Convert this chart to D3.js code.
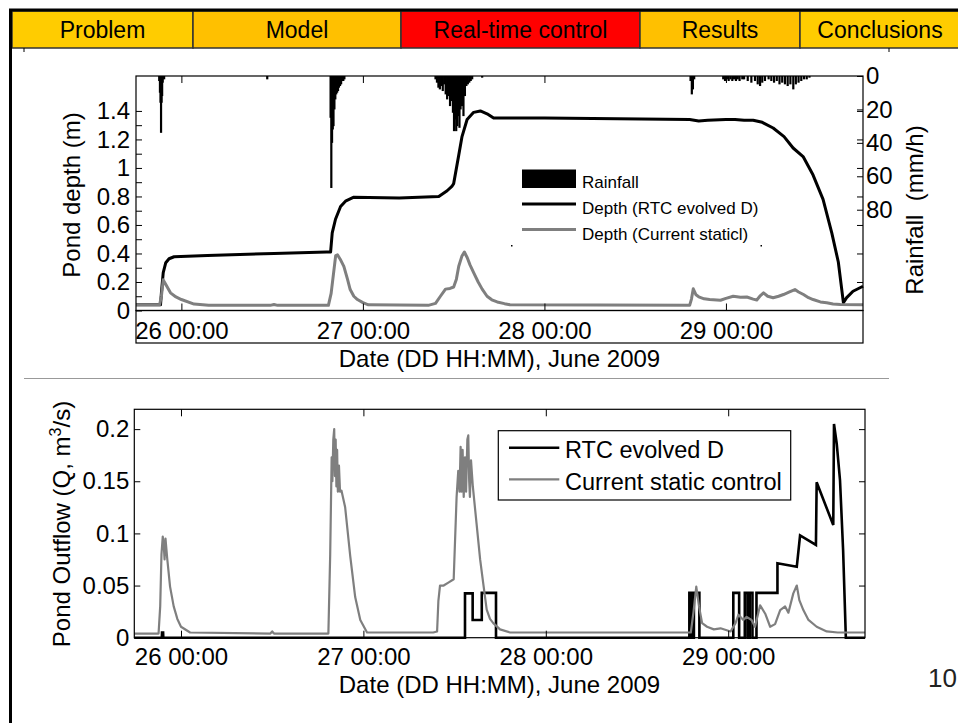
<!DOCTYPE html>
<meta charset="utf-8">

<!-- Load d3.js -->
<script src="https://d3js.org/d3.v7.min.js"></script>

<style>
body { margin: 0; background: #fff; }
text { font-family: "Liberation Sans", Arial, sans-serif; fill: #000; }
.tick line { stroke: #000; }
</style>

<div id="my_dataviz"></div>

<script>

// ---------------------------//
//       DATA                 //
// ---------------------------//

// header tabs
var tabNames = ["Problem", "Model", "Real-time control", "Results", "Conclusions"];
var tabColors = ["#FFCC00", "#FFC000", "#FF0000", "#FFC000", "#FFCC00"];

// x axis (days of June 2009)
var dayTicks = [26, 27, 28, 29];
var dayLabels = ["26 00:00", "27 00:00", "28 00:00", "29 00:00"];

// top panel ticks
var depthTicks = [0, 0.1, 0.2, 0.3, 0.4, 0.5, 0.6, 0.7, 0.8, 0.9, 1, 1.1, 1.2, 1.3, 1.4];
var depthLabelled = [0, 0.2, 0.4, 0.6, 0.8, 1, 1.2, 1.4];
var rainTicks = [0, 20, 40, 60, 80];

// bottom panel ticks
var flowTicks = [0, 0.05, 0.1, 0.15, 0.2];

// rainfall (mm/h)
var rainTime = [25.878, 25.882, 25.885, 25.888, 25.891, 25.894, 25.897, 25.905,
  26.473,
  26.822, 26.826, 26.830, 26.834, 26.838, 26.843, 26.848, 26.853, 26.858, 26.863, 26.868, 26.874, 26.880, 26.886, 26.892, 26.898,
  27.400, 27.408, 27.416, 27.424, 27.432, 27.440, 27.448, 27.456, 27.464, 27.472, 27.480, 27.488, 27.496, 27.502, 27.508, 27.514,
  27.520, 27.526, 27.532, 27.538, 27.546, 27.554, 27.562, 27.570, 27.578, 27.586, 27.594, 27.602, 27.657,
  28.805, 28.812, 28.818, 28.825,
  28.985, 28.995, 29.005, 29.015, 29.025, 29.035, 29.045, 29.055, 29.065, 29.075, 29.09, 29.10, 29.12, 29.14, 29.16, 29.175,
  29.188, 29.20, 29.215, 29.235, 29.25, 29.265, 29.28, 29.295, 29.31, 29.325, 29.34, 29.355, 29.371, 29.385, 29.40, 29.415,
  29.43, 29.445, 29.46];
var rainValue = [3, 10, 16, 34, 16, 12, 4, 2,
  2,
  25, 67, 40, 32, 30, 20, 14, 11, 10, 9, 7, 6, 5, 3, 3, 2,
  2, 4, 7, 8, 6, 9, 5, 11, 14, 12, 18, 15, 22, 33, 26, 33,
  30, 24, 31, 20, 18, 24, 12, 6, 5, 4, 3, 2, 1,
  3, 11, 8, 2,
  2, 3, 2, 3, 2, 3, 2, 3, 2, 3, 2, 2, 3, 4, 3, 5,
  6, 4, 3, 2, 3, 4, 3, 5, 4, 5, 6, 5, 8, 5, 4, 3,
  2, 2, 1];

// pond depth (m), RTC evolved D
var rtcDepthTime = [25.75, 25.885, 25.89, 25.90, 25.914, 25.932, 25.96, 26.143, 26.51, 26.80, 26.822, 26.831, 26.849,
  26.877, 26.904, 26.95, 27.2, 27.418, 27.464, 27.49, 27.50, 27.528, 27.546, 27.574, 27.61, 27.647, 27.684, 27.72,
  28.0, 28.4, 28.8, 28.85, 28.9, 29.0, 29.05, 29.1, 29.15, 29.2, 29.26, 29.32, 29.37, 29.425, 29.48, 29.535, 29.583,
  29.619, 29.647, 29.665, 29.70, 29.755];
var rtcDepthValue = [0.04, 0.04, 0.124, 0.265, 0.335, 0.363, 0.377, 0.386, 0.40, 0.41, 0.41, 0.545, 0.64,
  0.73, 0.767, 0.795, 0.79, 0.80, 0.84, 0.87, 0.89, 1.09, 1.22, 1.34, 1.39, 1.40, 1.38, 1.35,
  1.35, 1.345, 1.34, 1.33, 1.335, 1.34, 1.34, 1.335, 1.335, 1.32, 1.28, 1.22, 1.14, 1.08, 0.95, 0.78, 0.545,
  0.34, 0.055, 0.09, 0.135, 0.17];

// pond depth (m), current static control
var staticDepthTime = [25.75, 25.88, 25.89, 25.90, 25.915, 25.94, 25.97, 26.0, 26.07, 26.15, 26.49, 26.51, 26.53,
  26.81, 26.825, 26.85, 26.86, 26.875, 26.895, 26.915, 26.93, 26.95, 26.97, 27.0, 27.03, 27.36, 27.40, 27.427,
  27.455, 27.48, 27.50, 27.515, 27.528, 27.545, 27.559, 27.575, 27.59, 27.61, 27.635, 27.657, 27.684, 27.71, 27.74,
  27.78, 27.81, 28.80, 28.81, 28.82, 28.835, 28.85, 28.88, 28.91, 28.97, 29.0, 29.04, 29.08, 29.115, 29.15, 29.17,
  29.19, 29.207, 29.23, 29.26, 29.29, 29.317, 29.35, 29.38, 29.40, 29.427, 29.455, 29.48, 29.52, 29.555, 29.59,
  29.63, 29.755];
var staticDepthValue = [0.04, 0.04, 0.10, 0.215, 0.18, 0.124, 0.095, 0.077, 0.045, 0.037, 0.036, 0.042, 0.036,
  0.036, 0.12, 0.385, 0.39, 0.36, 0.31, 0.22, 0.147, 0.10, 0.077, 0.055, 0.04, 0.036, 0.05, 0.10,
  0.15, 0.155, 0.165, 0.22, 0.31, 0.38, 0.41, 0.37, 0.32, 0.265, 0.20, 0.15, 0.10, 0.075, 0.06,
  0.048, 0.04, 0.036, 0.08, 0.152, 0.11, 0.096, 0.082, 0.077, 0.072, 0.085, 0.10, 0.093, 0.095, 0.08, 0.074,
  0.105, 0.124, 0.10, 0.089, 0.10, 0.112, 0.13, 0.147, 0.13, 0.112, 0.09, 0.077, 0.06, 0.054, 0.045,
  0.042, 0.04];

// pond outflow (m3/s), RTC evolved D
var rtcFlowTime = [25.744, 25.895, 25.896, 25.902, 25.903, 27.557, 27.557, 27.599, 27.599, 27.649, 27.649, 27.727,
  27.727, 28.787, 28.787, 28.80, 28.80, 28.812, 28.812, 28.842, 28.842, 29.028, 29.028, 29.06, 29.06, 29.091,
  29.091, 29.106, 29.106, 29.118, 29.118, 29.133, 29.133, 29.155, 29.155, 29.27, 29.27, 29.376, 29.394, 29.481,
  29.485, 29.576, 29.58, 29.595, 29.613, 29.63, 29.645, 29.75];
var rtcFlowValue = [0, 0, 0.005, 0.005, 0, 0, 0.0425, 0.0425, 0.017, 0.017, 0.043, 0.043,
  0, 0, 0.043, 0.043, 0, 0, 0.043, 0.043, 0, 0, 0.043, 0.043, 0, 0,
  0.043, 0.043, 0, 0, 0.043, 0.043, 0, 0, 0.043, 0.043, 0.0713, 0.068, 0.098, 0.089,
  0.149, 0.108, 0.205, 0.186, 0.151, 0.084, 0, 0];

// pond outflow (m3/s), current static control
var staticFlowTime = [25.744, 25.877, 25.886, 25.893, 25.90, 25.905, 25.91, 25.915, 25.925, 25.94, 25.96, 25.98,
  26.0, 26.05, 26.49, 26.5, 26.51, 26.808, 26.818, 26.826, 26.83, 26.835, 26.84, 26.844, 26.848, 26.852, 26.856,
  26.86, 26.866, 26.872, 26.88, 26.9, 26.928, 26.955, 26.983, 27.02, 27.383, 27.404, 27.411, 27.42, 27.44, 27.468,
  27.495, 27.511, 27.52, 27.527, 27.533, 27.538, 27.544, 27.55, 27.557, 27.563, 27.57, 27.575, 27.58, 27.584, 27.59,
  27.60, 27.62, 27.64, 27.657, 27.676, 27.694, 27.712, 27.749, 27.804, 28.795, 28.81, 28.825, 28.84, 28.857,
  28.884, 28.921, 28.958, 29.013, 29.04, 29.056, 29.083, 29.101, 29.128, 29.147, 29.175, 29.203, 29.23, 29.257,
  29.285, 29.312, 29.33, 29.357, 29.376, 29.39, 29.412, 29.44, 29.485, 29.54, 29.6, 29.75];
var staticFlowValue = [0.004, 0.004, 0.03, 0.08, 0.097, 0.09, 0.075, 0.095, 0.075, 0.049, 0.03, 0.018,
  0.0105, 0.005, 0.004, 0.006, 0.004, 0.004, 0.08, 0.173, 0.15, 0.19, 0.2, 0.155, 0.19, 0.145, 0.18,
  0.14, 0.165, 0.14, 0.141, 0.125, 0.078, 0.039, 0.017, 0.005, 0.005, 0.006, 0.035, 0.05, 0.05, 0.053,
  0.056, 0.135, 0.16, 0.14, 0.183, 0.14, 0.18, 0.135, 0.173, 0.14, 0.19, 0.194, 0.15, 0.135, 0.17,
  0.145, 0.11, 0.075, 0.052, 0.027, 0.018, 0.014, 0.008, 0.005, 0.005, 0.025, 0.049, 0.03, 0.014,
  0.0105, 0.008, 0.009, 0.006, 0.014, 0.022, 0.017, 0.02, 0.017, 0.0105, 0.031, 0.023, 0.0105, 0.013,
  0.0265, 0.03, 0.024, 0.0425, 0.05, 0.036, 0.0265, 0.017, 0.0105, 0.006, 0.005, 0.005];

// ---------------------------//
//       PAGE                 //
// ---------------------------//

var W = 958, H = 723;
var grey = "#7f7f7f";
var tickFont = "Liberation Sans, Arial, sans-serif";

var svg = d3.select("#my_dataviz")
  .append("svg")
    .attr("width", W)
    .attr("height", H);

svg.append("rect").attr("width", W).attr("height", H).style("fill", "#fff");

// header tabs
var tabX = d3.scaleOrdinal().domain(tabNames).range([12, 193, 401, 640, 800]);
var tabW = d3.scaleOrdinal().domain(tabNames).range([181, 208, 239, 160, 160]);

var tabs = svg.append("g").selectAll("g").data(tabNames).enter().append("g");
tabs.append("rect")
  .attr("x", function(d) { return tabX(d); })
  .attr("y", 11)
  .attr("width", function(d) { return tabW(d); })
  .attr("height", 37)
  .style("fill", function(d, i) { return tabColors[i]; })
  .style("stroke", "#333")
  .style("stroke-width", 1.5);
tabs.append("text")
  .attr("x", function(d) { return tabX(d) + tabW(d) / 2; })
  .attr("y", 37.5)
  .attr("text-anchor", "middle")
  .style("font-size", "23px")
  .text(function(d) { return d; });

// slide frame
svg.append("line").attr("x1", 9).attr("x2", W).attr("y1", 10).attr("y2", 10)
  .style("stroke", "#000").style("stroke-width", 3);
svg.append("line").attr("x1", 10.5).attr("x2", 10.5).attr("y1", 9).attr("y2", H)
  .style("stroke", "#000").style("stroke-width", 3);
svg.append("line").attr("x1", 24).attr("x2", 24).attr("y1", 48).attr("y2", 52).style("stroke", "#000");
svg.append("line").attr("x1", 889).attr("x2", 889).attr("y1", 48).attr("y2", 52).style("stroke", "#000");

// separator between the two panels
svg.append("line").attr("x1", 24).attr("x2", 889).attr("y1", 378.5).attr("y2", 378.5)
  .style("stroke", "#999").style("stroke-width", 1.2);

// page number
svg.append("text").attr("x", 928).attr("y", 686.5)
  .style("font-size", "26px").style("fill", "#222").text("10");

// ---------------------------//
//       TOP PANEL            //
// ---------------------------//

var xTop = d3.scaleLinear().domain([25.75, 29.755]).range([136, 863]);
var yDepth = d3.scaleLinear().domain([0, 1.645]).range([310.5, 76]);
var yRain = d3.scaleLinear().domain([0, 140]).range([76, 310]);

var topPanel = svg.append("g");

// rainfall bars hanging from the top
var rainData = rainTime.map(function(t, i) { return {t: t, v: rainValue[i]}; });
topPanel.append("g").selectAll("rect").data(rainData).enter().append("rect")
  .attr("x", function(d) { return xTop(d.t) - 1.1; })
  .attr("y", yRain(0))
  .attr("width", 2.2)
  .attr("height", function(d) { return yRain(d.v) - yRain(0); })
  .style("fill", "#000");

var depthLine = d3.line()
  .x(function(d) { return xTop(d.t); })
  .y(function(d) { return yDepth(d.v); });

topPanel.append("path")
  .datum(rtcDepthTime.map(function(t, i) { return {t: t, v: rtcDepthValue[i]}; }))
  .attr("d", depthLine)
  .style("fill", "none").style("stroke", "#000").style("stroke-width", 3)
  .style("stroke-linejoin", "round");

topPanel.append("path")
  .datum(staticDepthTime.map(function(t, i) { return {t: t, v: staticDepthValue[i]}; }))
  .attr("d", depthLine)
  .style("fill", "none").style("stroke", grey).style("stroke-width", 3)
  .style("stroke-linejoin", "round");

// frame + tick label box
topPanel.append("rect").attr("x", 136).attr("y", 76).attr("width", 727).attr("height", 234.5)
  .style("fill", "none").style("stroke", "#000").style("stroke-width", 1.2);
topPanel.append("rect").attr("x", 136).attr("y", 310.5).attr("width", 727).attr("height", 32.5)
  .style("fill", "none").style("stroke", "#000").style("stroke-width", 1.2);

// left axis
topPanel.append("g")
  .attr("transform", "translate(136,0)")
  .call(d3.axisLeft(yDepth).tickValues(depthTicks).tickSize(-6).tickPadding(6)
    .tickFormat(function(d) { return depthLabelled.indexOf(d) >= 0 ? d3.format("~g")(d) : ""; }))
  .call(function(g) { g.select(".domain").remove(); })
  .selectAll("text").style("font-size", "24px").style("font-family", tickFont);

// right axes: mirrored depth ticks + rainfall
topPanel.append("g")
  .attr("transform", "translate(863,0)")
  .call(d3.axisRight(yDepth).tickValues(depthLabelled.slice(1)).tickSize(-6).tickFormat(""))
  .call(function(g) { g.select(".domain").remove(); });
topPanel.append("g")
  .attr("transform", "translate(863,0)")
  .call(d3.axisRight(yRain).tickValues(rainTicks).tickSize(-6).tickPadding(3))
  .call(function(g) { g.select(".domain").remove(); })
  .selectAll("text").style("font-size", "24px").style("font-family", tickFont);

// time axis
topPanel.append("g")
  .attr("transform", "translate(0,76)")
  .call(d3.axisTop(xTop).tickValues(dayTicks).tickSize(-7).tickFormat(""))
  .call(function(g) { g.select(".domain").remove(); });
topPanel.append("g")
  .attr("transform", "translate(0,310.5)")
  .call(d3.axisBottom(xTop).tickValues(dayTicks).tickSize(-7).tickPadding(11)
    .tickFormat(function(d, i) { return dayLabels[i]; }))
  .call(function(g) { g.select(".domain").remove(); })
  .selectAll("text").style("font-size", "24px").style("font-family", tickFont);

// axis titles
topPanel.append("text").attr("x", 499.5).attr("y", 367)
  .attr("text-anchor", "middle").style("font-size", "24px")
  .text("Date (DD HH:MM), June 2009");
topPanel.append("text")
  .attr("transform", "translate(80,195) rotate(-90)")
  .attr("text-anchor", "middle").style("font-size", "24px")
  .text("Pond depth (m)");
topPanel.append("text")
  .attr("transform", "translate(923,210) rotate(-90)")
  .attr("text-anchor", "middle").style("font-size", "24px")
  .style("white-space", "pre")
  .text("Rainfall  (mm/h)");

// legend (no box)
topPanel.append("rect").attr("x", 522).attr("y", 169.5).attr("width", 54).attr("height", 18.5)
  .style("fill", "#000");
topPanel.append("line").attr("x1", 522).attr("x2", 576).attr("y1", 204).attr("y2", 204)
  .style("stroke", "#000").style("stroke-width", 3);
topPanel.append("line").attr("x1", 522).attr("x2", 576).attr("y1", 229.5).attr("y2", 229.5)
  .style("stroke", grey).style("stroke-width", 3);
topPanel.selectAll("legtext").data(["Rainfall", "Depth (RTC evolved D)", "Depth (Current staticl)"]).enter()
  .append("text")
    .attr("x", 582)
    .attr("y", function(d, i) { return [187.7, 214, 240][i]; })
    .style("font-size", "17px")
    .text(function(d) { return d; });
topPanel.append("rect").attr("x", 511).attr("y", 245).attr("width", 1.5).attr("height", 1.5).style("fill", "#000");
topPanel.append("rect").attr("x", 760.5).attr("y", 245).attr("width", 1.5).attr("height", 1.5).style("fill", "#000");

// ---------------------------//
//       BOTTOM PANEL         //
// ---------------------------//

var xBot = d3.scaleLinear().domain([25.744, 29.75]).range([134.3, 865]);
var yFlow = d3.scaleLinear().domain([0, 0.219]).range([637.7, 409.3]);

var botPanel = svg.append("g");

var flowLine = d3.line()
  .x(function(d) { return xBot(d.t); })
  .y(function(d) { return yFlow(d.v); });

botPanel.append("path")
  .datum(rtcFlowTime.map(function(t, i) { return {t: t, v: rtcFlowValue[i]}; }))
  .attr("d", flowLine)
  .style("fill", "none").style("stroke", "#000").style("stroke-width", 2.6);

botPanel.append("path")
  .datum(staticFlowTime.map(function(t, i) { return {t: t, v: staticFlowValue[i]}; }))
  .attr("d", flowLine)
  .style("fill", "none").style("stroke", grey).style("stroke-width", 2.2)
  .style("stroke-linejoin", "round");

botPanel.append("rect").attr("x", 134.3).attr("y", 409.3).attr("width", 730.7).attr("height", 228.4)
  .style("fill", "none").style("stroke", "#000").style("stroke-width", 1.2);

botPanel.append("g")
  .attr("transform", "translate(134.3,0)")
  .call(d3.axisLeft(yFlow).tickValues(flowTicks).tickSize(-6).tickPadding(5)
    .tickFormat(d3.format("~g")))
  .call(function(g) { g.select(".domain").remove(); })
  .selectAll("text").style("font-size", "24px").style("font-family", tickFont);
botPanel.append("g")
  .attr("transform", "translate(865,0)")
  .call(d3.axisRight(yFlow).tickValues(flowTicks).tickSize(-6).tickFormat(""))
  .call(function(g) { g.select(".domain").remove(); });

botPanel.append("g")
  .attr("transform", "translate(0,409.3)")
  .call(d3.axisTop(xBot).tickValues(dayTicks).tickSize(-7).tickFormat(""))
  .call(function(g) { g.select(".domain").remove(); });
botPanel.append("g")
  .attr("transform", "translate(0,637.7)")
  .call(d3.axisBottom(xBot).tickValues(dayTicks).tickSize(-7).tickPadding(10.6)
    .tickFormat(function(d, i) { return dayLabels[i]; }))
  .call(function(g) { g.select(".domain").remove(); })
  .selectAll("text").style("font-size", "24px").style("font-family", tickFont);

botPanel.append("text").attr("x", 499.5).attr("y", 692.5)
  .attr("text-anchor", "middle").style("font-size", "24px")
  .text("Date (DD HH:MM), June 2009");

var qTitle = botPanel.append("text")
  .attr("transform", "translate(70,524) rotate(-90)")
  .attr("text-anchor", "middle").style("font-size", "24px");
qTitle.append("tspan").text("Pond Outflow (Q, m");
qTitle.append("tspan").attr("dy", -9).style("font-size", "16px").text("3");
qTitle.append("tspan").attr("dy", 9).text("/s)");

// legend box
botPanel.append("rect").attr("x", 498.3).attr("y", 430.7).attr("width", 292.4).attr("height", 69.3)
  .style("fill", "#fff").style("stroke", "#000").style("stroke-width", 1.2);
botPanel.append("line").attr("x1", 509).attr("x2", 559.3).attr("y1", 447.7).attr("y2", 447.7)
  .style("stroke", "#000").style("stroke-width", 2.6);
botPanel.append("line").attr("x1", 509).attr("x2", 559.3).attr("y1", 479.3).attr("y2", 479.3)
  .style("stroke", grey).style("stroke-width", 2.2);
botPanel.selectAll("legtext").data(["RTC evolved D", "Current static control"]).enter()
  .append("text")
    .attr("x", 565)
    .attr("y", function(d, i) { return [458.3, 490][i]; })
    .style("font-size", "23.5px")
    .text(function(d) { return d; });

</script>
